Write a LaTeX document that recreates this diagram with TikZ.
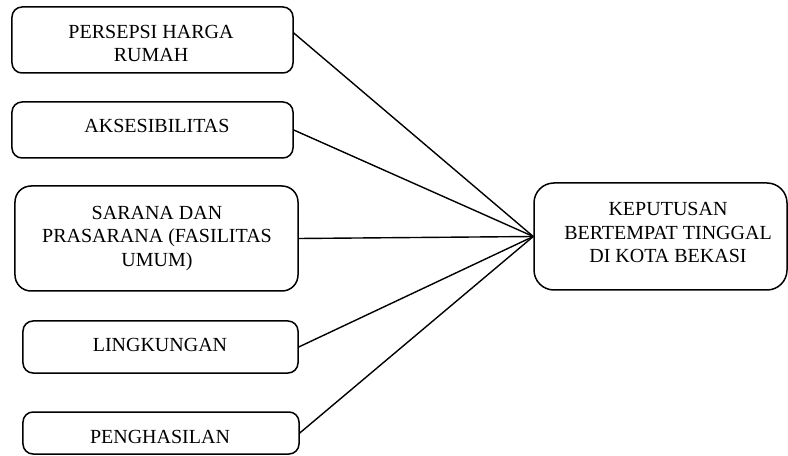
\documentclass[tikz,border=0pt]{standalone}
\usepackage{fontspec}
\setmainfont{Liberation Serif}
\begin{document}
\begin{tikzpicture}[x=1bp,y=-1bp,
  box/.style={draw, line width=1.5bp, rounded corners=10bp, inner sep=0pt},
  lbl/.style={align=center, inner sep=0pt, font=\fontsize{20bp}{23.5bp}\selectfont},
  link/.style={line width=1.4bp}]
\useasboundingbox (0,0) rectangle (788,456);
% boxes
\node[box, minimum width=281bp, minimum height=66bp] (b1) at (152.5,40) {};
\node[box, minimum width=281bp, minimum height=56bp] (b2) at (152.5,130) {};
\node[box, rounded corners=16bp, minimum width=283bp, minimum height=105bp] (b3) at (156.5,238.5) {};
\node[box, minimum width=275bp, minimum height=52bp] (b4) at (160.5,347) {};
\node[box, minimum width=276bp, minimum height=42bp] (b5) at (161,433) {};
\node[box, rounded corners=20bp, minimum width=253bp, minimum height=107bp] (t) at (660.5,236.5) {};
% labels
\node[lbl] (l1) at (151,43.5) {PERSEPSI HARGA\\RUMAH};
\node[lbl] (l2) at (157,126) {AKSESIBILITAS};
\node[lbl] (l3) at (157,238.5) {SARANA DAN\\PRASARANA (FASILITAS\\UMUM)};
\node[lbl] (l4) at (160,345) {LINGKUNGAN};
\node[lbl] (l5) at (160,436.5) {PENGHASILAN};
\node[lbl] (lt) at (668,232.5) {KEPUTUSAN\\BERTEMPAT TINGGAL\\DI KOTA BEKASI};
% connectors
\draw[link] ([yshift=7bp]b1.east) -- (t.west);
\draw[link] (b2.east) -- (t.west);
\draw[link] (b3.east) -- (t.west);
\draw[link] (b4.east) -- (t.west);
\draw[link] (b5.east) -- (t.west);
\end{tikzpicture}
\end{document}
